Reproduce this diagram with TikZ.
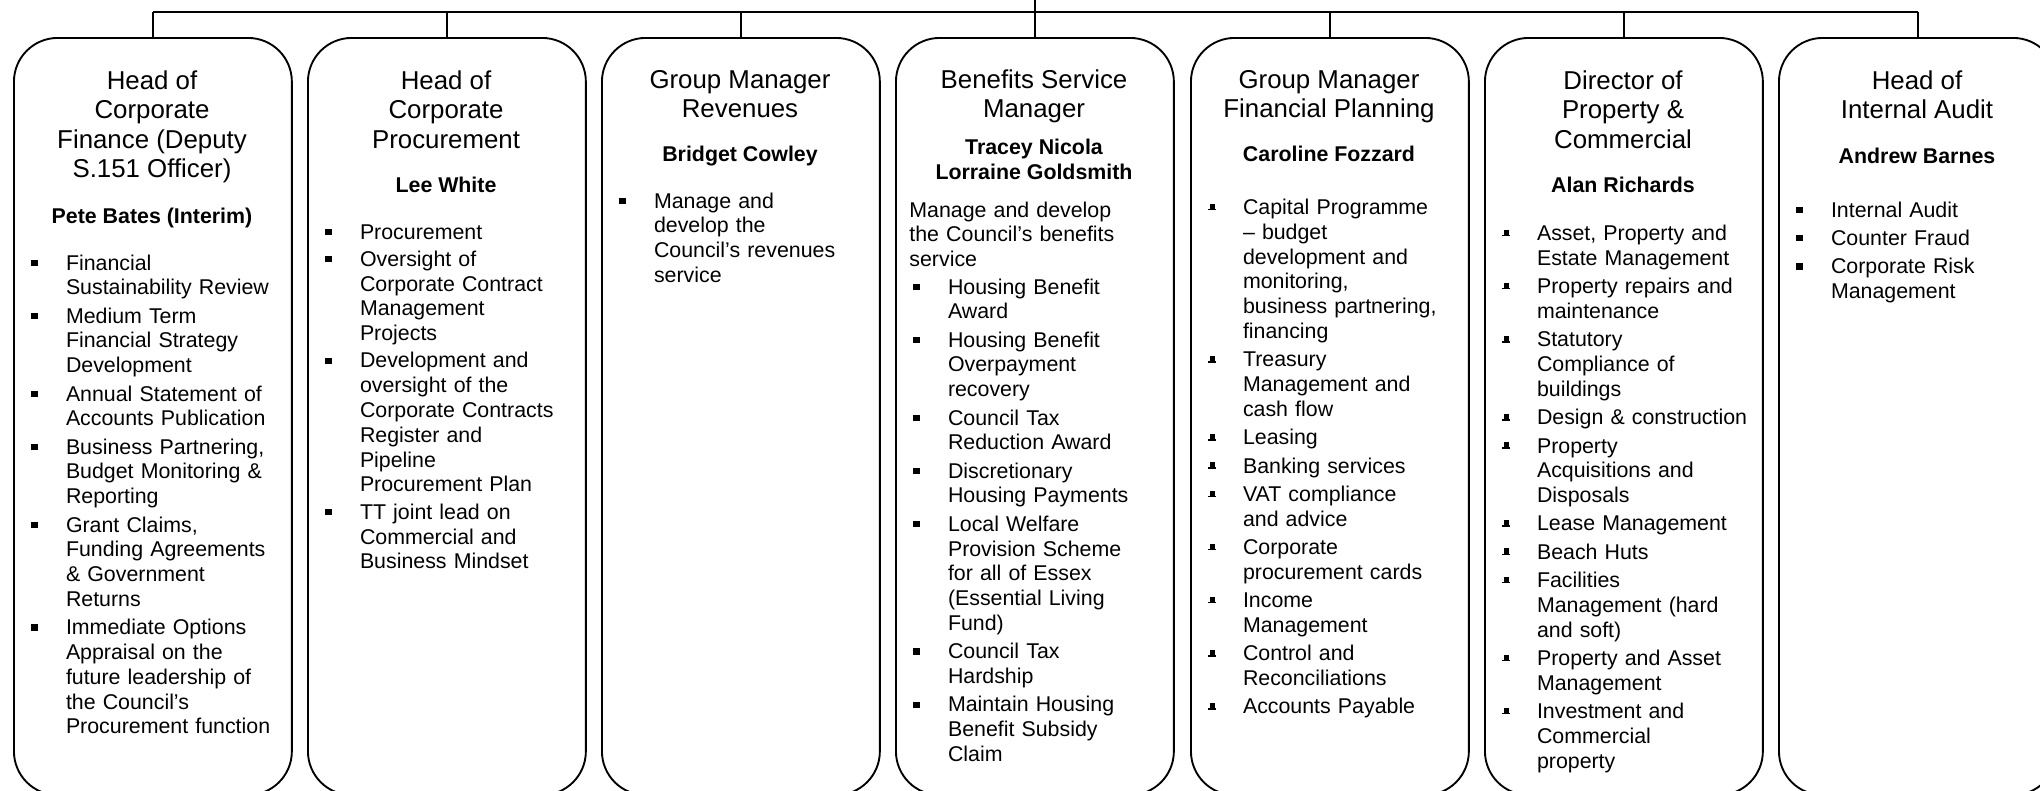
\documentclass[tikz,border=0pt]{standalone}
\usepackage{fontspec}
\setmainfont{Liberation Sans}

% bullets
\newcommand\sqbul{\rule[2pt]{3pt}{3pt}}
\newcommand\hatbul{\makebox[0pt][l]{\rule[2pt]{3.6pt}{0.7pt}}\makebox[3.6pt][c]{\rule[2.6pt]{2.4pt}{2.6pt}}}
\let\curbul\sqbul
\newlength\itmgap
\setlength\itmgap{16.6pt}
\newcommand\itm[1]{\noindent\hangindent=\itmgap\hangafter=1\relax\makebox[\itmgap][l]{\curbul}#1\par}

\begin{document}
\begin{tikzpicture}[x=0.48pt, y=-0.48pt,
  box/.style={draw, line width=0.9pt, rounded corners=21pt, anchor=north west,
    minimum width=133.4pt, minimum height=363.4pt, inner sep=0pt},
  ttl/.style={anchor=base, align=center, inner sep=0pt, font=\fontsize{12.4}{14.2}\selectfont},
  nm/.style={anchor=base, align=center, inner sep=0pt, font=\bfseries\fontsize{10.25}{11.9}\selectfont},
  lst/.style={anchor=base west, text width=130pt, align=left, inner sep=0pt,
    font=\fontsize{10.25}{11.9}\selectfont\setlength\parskip{1.7pt}}]
  \useasboundingbox (0,0) rectangle (2040,790);
  \clip (0,0) rectangle (2040,790);

  % Boxes
  \node[box] (b1) at (13,37) {};
  \node[box] (b2) at (307,37) {};
  \node[box] (b3) at (601,37) {};
  \node[box] (b4) at (895,37) {};
  \node[box] (b5) at (1190,37) {};
  \node[box] (b6) at (1484,37) {};
  \node[box] (b7) at (1778,37) {};

  % Reporting lines
  \coordinate (top) at (b4.north |- 0,0);
  \coordinate (bar) at (0,12);
  \draw[line width=0.9pt] (b1.north |- bar) -- (b7.north |- bar);
  \draw[line width=0.9pt] (top) -- (b4.north);
  \draw[line width=0.9pt] (b1.north) -- (b1.north |- bar);
  \draw[line width=0.9pt] (b2.north) -- (b2.north |- bar);
  \draw[line width=0.9pt] (b3.north) -- (b3.north |- bar);
  \draw[line width=0.9pt] (b5.north) -- (b5.north |- bar);
  \draw[line width=0.9pt] (b6.north) -- (b6.north |- bar);
  \draw[line width=0.9pt] (b7.north) -- (b7.north |- bar);

  % Corporate Finance (titles sit on their last line)
  \node[ttl] (t1) at (152,177.8) {Head of\\Corporate\\Finance (Deputy\\S.151 Officer)};
  \node[nm] (n1) at (152,223) {Pete Bates (Interim)};
  \node[lst] (l1) at (31,270) {%
    \itm{Financial\newline Sustainability Review}
    \itm{Medium Term\newline Financial Strategy\newline Development}
    \itm{Annual Statement of\newline Accounts Publication}
    \itm{Business Partnering,\newline Budget Monitoring \&\newline Reporting}
    \itm{Grant Claims,\newline Funding Agreements\newline \& Government\newline Returns}
    \itm{Immediate Options\newline Appraisal on the\newline future leadership of\newline the Council’s\newline Procurement function}};

  % Corporate Procurement
  \node[ttl] (t2) at (446,148.2) {Head of\\Corporate\\Procurement};
  \node[nm] (n2) at (446,192) {Lee White};
  \node[lst] (l2) at (325,239) {\setlength\parskip{1.2pt}%
    \itm{Procurement}
    \itm{Oversight of\newline Corporate Contract\newline Management\newline Projects}
    \itm{Development and\newline oversight of the\newline Corporate Contracts\newline Register and\newline Pipeline\newline Procurement Plan}
    \itm{TT joint lead on\newline Commercial and\newline Business Mindset}};

  % Revenues
  \node[ttl] (t3) at (740,117.6) {Group Manager\\Revenues};
  \node[nm] (n3) at (740,161) {Bridget Cowley};
  \node[lst] (l3) at (619,208) {%
    \itm{Manage and\newline develop the\newline Council’s revenues\newline service}};

  % Benefits
  \node[ttl] (t4) at (1034,117.6) {Benefits Service\\Manager};
  \node[nm] (n4) at (1034,179.3) {Tracey Nicola\\Lorraine Goldsmith};
  \node[lst] (p4) at (909,217) {Manage and develop\newline the Council’s benefits\newline service};
  \node[lst] (l4) at (913,294) {%
    \itm{Housing Benefit\newline Award}
    \itm{Housing Benefit\newline Overpayment\newline recovery}
    \itm{Council Tax\newline Reduction Award}
    \itm{Discretionary\newline Housing Payments}
    \itm{Local Welfare\newline Provision Scheme\newline for all of Essex\newline (Essential Living\newline Fund)}
    \itm{Council Tax\newline Hardship}
    \itm{Maintain Housing\newline Benefit Subsidy\newline Claim}};

  % Financial Planning
  \node[ttl] (t5) at (1329,117.6) {Group Manager\\Financial Planning};
  \node[nm] (n5) at (1329,161) {Caroline Fozzard};
  \node[lst] (l5) at (1208,214.5) {\let\curbul\hatbul
    \itm{Capital Programme\newline – budget\newline development and\newline monitoring,\newline business partnering,\newline financing}
    \itm{Treasury\newline Management and\newline cash flow}
    \itm{Leasing}
    \itm{Banking services}
    \itm{VAT compliance\newline and advice}
    \itm{Corporate\newline procurement cards}
    \itm{Income\newline Management}
    \itm{Control and\newline Reconciliations}
    \itm{Accounts Payable}};

  % Property & Commercial
  \node[ttl] (t6) at (1623,148.2) {Director of\\Property \&\\Commercial};
  \node[nm] (n6) at (1623,192) {Alan Richards};
  \node[lst] (l6) at (1502,240.5) {\let\curbul\hatbul
    \itm{Asset, Property and\newline Estate Management}
    \itm{Property repairs and\newline maintenance}
    \itm{Statutory\newline Compliance of\newline buildings}
    \itm{Design \& construction}
    \itm{Property\newline Acquisitions and\newline Disposals}
    \itm{Lease Management}
    \itm{Beach Huts}
    \itm{Facilities\newline Management (hard\newline and soft)}
    \itm{Property and Asset\newline Management}
    \itm{Investment and\newline Commercial\newline property}};

  % Internal Audit
  \node[ttl] (t7) at (1917,118.6) {Head of\\Internal Audit};
  \node[nm] (n7) at (1917,163.5) {Andrew Barnes};
  \node[lst] (l7) at (1796,217) {%
    \itm{Internal Audit}
    \itm{Counter Fraud}
    \itm{Corporate Risk\newline Management}};
\end{tikzpicture}
\end{document}
